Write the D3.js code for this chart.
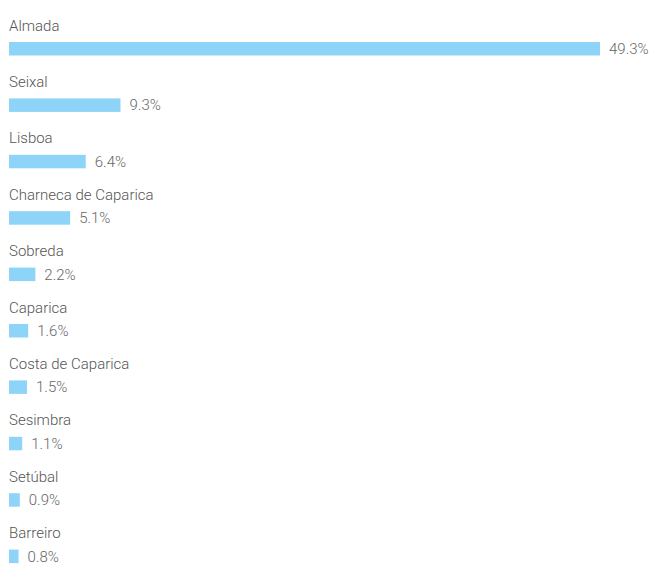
<!DOCTYPE html>
<html><head><meta charset="utf-8">
<script src="https://cdn.jsdelivr.net/npm/d3@7"></script>
<style>body{margin:0;background:#fff;} svg{display:block;}</style>
</head><body>
<svg id="c" width="650" height="565"></svg>
<script>
const categories = ["Almada","Seixal","Lisboa","Charneca de Caparica","Sobreda","Caparica","Costa de Caparica","Sesimbra","Setúbal","Barreiro"];
const values = [49.3, 9.3, 6.4, 5.1, 2.2, 1.6, 1.5, 1.1, 0.9, 0.8];
const valueLabels = ["49.3%","9.3%","6.4%","5.1%","2.2%","1.6%","1.5%","1.1%","0.9%","0.8%"];

const svg = d3.select("#c");
const x = d3.scaleLinear().domain([0, 49.3]).range([9, 600]);
const y = d3.scaleBand().domain(categories).range([13, 577]).paddingInner(0).paddingOuter(0);
const barH = 13.5;
const barOff = 29;

const g = svg.selectAll("g.row").data(categories).join("g").attr("class","row");
g.append("text")
  .attr("x", 9).attr("y", d => y(d) + 17.5)
  .attr("font-family","Roboto, sans-serif").attr("font-size", 15).attr("font-weight", 300)
  .attr("fill","#555").text(d => d);
g.append("rect")
  .attr("x", x(0)).attr("y", d => y(d) + barOff)
  .attr("width", (d,i) => x(values[i]) - x(0)).attr("height", barH)
  .attr("fill","#8dd4f8");
g.append("text")
  .attr("x", (d,i) => x(values[i]) + 9).attr("y", d => y(d) + barOff + 12)
  .attr("font-family","Roboto, sans-serif").attr("font-size", 15).attr("font-weight", 300)
  .attr("fill","#666").text((d,i) => valueLabels[i]);
</script>
</body></html>
